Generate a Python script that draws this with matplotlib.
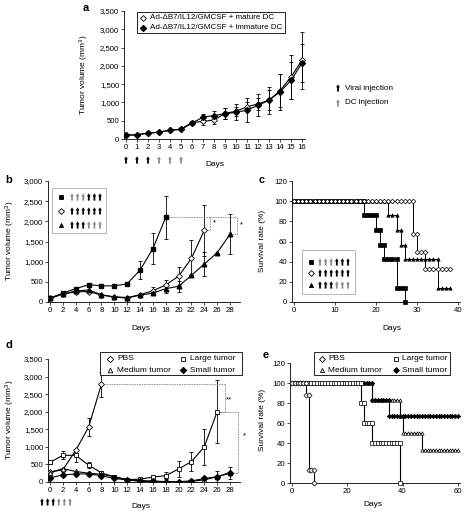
import matplotlib
matplotlib.use('Agg')
import matplotlib.pyplot as plt
from matplotlib.patches import Rectangle, Polygon
from matplotlib.ticker import FuncFormatter
from matplotlib.lines import Line2D

plt.rcParams['font.family'] = ['Liberation Sans', 'DejaVu Sans']
plt.rcParams['mathtext.default'] = 'regular'

# ---------------- data ----------------
# panel a
a_days = list(range(0, 17))
a_mature = [100, 120, 160, 190, 240, 270, 450, 480, 520, 700, 760, 880, 960, 1060, 1320, 1700, 2150]
a_mature_err = [0, 0, 0, 0, 0, 0, 50, 100, 110, 160, 120, 120, 170, 280, 450, 600, 780]
a_immature = [100, 120, 155, 185, 240, 260, 430, 600, 640, 690, 730, 790, 920, 1060, 1290, 1600, 2080]
a_immature_err = [0, 0, 0, 0, 0, 0, 40, 90, 130, 150, 220, 330, 300, 370, 500, 500, 520]
a_labels = ['Ad-\u0394B7/IL12/GMCSF + mature DC', 'Ad-\u0394B7/IL12/GMCSF + immature DC']
a_inj_days = [0, 1, 2, 3, 4, 5]
a_inj_pat = ['k', 'k', 'k', 'g', 'g', 'g']

# panel b
b_sq_days = [0, 2, 4, 6, 8, 10, 12, 14, 16, 18]
b_sq = [100, 220, 330, 430, 400, 400, 450, 790, 1320, 2100]
b_sq_err = [0, 0, 0, 0, 0, 0, 0, 230, 380, 540]
b_di_days = [0, 2, 4, 6, 8, 10, 12, 14, 16, 18, 20, 22, 24]
b_di = [90, 200, 250, 260, 170, 130, 110, 180, 280, 420, 640, 1080, 1780]
b_di_err = [0, 0, 0, 0, 0, 0, 0, 0, 80, 120, 220, 450, 630]
b_tr_days = [0, 2, 4, 6, 8, 10, 12, 14, 16, 18, 20, 22, 24, 26, 28]
b_tr = [90, 200, 270, 300, 180, 120, 100, 170, 220, 330, 390, 660, 940, 1220, 1680]
b_tr_err = [0, 0, 0, 0, 0, 0, 0, 0, 0, 100, 130, 0, 300, 0, 500]

# arrow patterns (k = viral, g = DC)
pat_sq = ['g', 'g', 'g', 'k', 'k', 'k']
pat_di = ['k', 'k', 'k', 'k', 'k', 'k']
pat_tr = ['k', 'k', 'k', 'g', 'g', 'g']

# panel c survival: change days, survival after change, last day
c_sq_t, c_sq_v, c_sq_end = [17, 20, 21, 22, 25, 27], [86, 71, 57, 43, 14, 0], 27
c_di_t, c_di_v, c_di_end = [29, 30, 32], [67, 50, 33], 38
c_tr_t, c_tr_v, c_tr_end = [23, 25, 26, 27, 35], [86, 71, 57, 43, 14], 38

# panel d
d_pbs_days = [0, 2, 4, 6, 8]
d_pbs = [280, 350, 900, 1560, 2780]
d_pbs_err = [0, 0, 0, 260, 350]
d_lg_days = [0, 2, 4, 6, 8, 10, 12, 14, 16, 18, 20, 22, 24, 26]
d_lg = [560, 760, 760, 480, 260, 150, 70, 80, 140, 180, 370, 580, 1000, 2000]
d_lg_err = [50, 110, 180, 80, 40, 40, 20, 30, 40, 100, 230, 280, 520, 900]
d_md_days = [0, 2, 4, 6, 8, 10, 12, 14, 16, 18, 20, 22, 24, 26, 28]
d_md = [270, 380, 300, 250, 220, 150, 60, 20, 10, 5, 5, 20, 60, 150, 270]
d_sm_days = [0, 2, 4, 6, 8, 10, 12, 14, 16, 18, 20, 22, 24, 26, 28]
d_sm = [120, 200, 230, 230, 180, 100, 60, 40, 30, 10, 10, 30, 100, 150, 250]
d_sm_err = [0, 0, 0, 0, 0, 0, 0, 0, 0, 0, 0, 0, 50, 150, 170]
d_labels = ['PBS', 'Medium tumor', 'Large tumor', 'Small tumor']
d_inj_pat = ['k', 'k', 'k', 'g', 'g', 'g']

# panel e survival
e_pbs_t, e_pbs_v, e_pbs_end = [5, 6, 8], [88, 13, 0], 8
e_lg_t, e_lg_v, e_lg_end = [25, 26, 29, 39], [80, 60, 40, 0], 39
e_md_t, e_md_v, e_md_end = [29, 39, 40, 47], [83, 67, 50, 33], 60
e_sm_t, e_sm_v, e_sm_end = [29, 35], [83, 67], 60

# ---------------- layout helpers ----------------
W, H = 465, 512
fig = plt.figure(figsize=(4.65, 5.12), dpi=100)
FS = 5.6
GRAY = '#8c8c8c'


def ax_px(x0, x1, ytop, ybot):
    return fig.add_axes([x0 / W, 1 - ybot / H, (x1 - x0) / W, (ybot - ytop) / H])


def ftext(x, y, s, **kw):
    kw.setdefault('fontsize', FS)
    fig.text(x / W, 1 - y / H, s, **kw)


def style(ax):
    for s in ['top', 'right']:
        ax.spines[s].set_visible(False)
    for s in ['left', 'bottom']:
        ax.spines[s].set_linewidth(0.6)
    ax.tick_params(labelsize=FS, length=2, width=0.5, pad=1.5)


comma = FuncFormatter(lambda v, p: f'{int(v):,}')


def arrow_px(x, y, c, z=3):
    col = 'black' if c == 'k' else GRAY
    pts = [(x - 0.9, y + 3.6), (x + 0.9, y + 3.6), (x + 0.9, y - 0.6), (x + 1.9, y - 0.6),
           (x, y - 3.6), (x - 1.9, y - 0.6), (x - 0.9, y - 0.6)]
    fig.patches.append(Polygon([(px / W, 1 - py / H) for px, py in pts], closed=True,
                               transform=fig.transFigure, fc=col, ec='none', zorder=z))


def arrows(x, y, pat, step=5.2, z=3):
    for i, c in enumerate(pat):
        arrow_px(x + i * step, y, c, z)


def km_path(times, vals, end):
    ch = dict(zip(times, vals))
    xs, ys, cur = [], [], 100
    for d in range(0, end + 1):
        if d in ch:
            xs += [d, d]
            ys += [cur, ch[d]]
            cur = ch[d]
        else:
            xs.append(d)
            ys.append(cur)
    return xs, ys


EB = dict(fmt='none', ecolor='black', elinewidth=0.6, capsize=1.5, capthick=0.6, zorder=2)
LW = 0.8
MS = 3

# ---------------- panel a ----------------
axa = ax_px(124, 305, 11, 139)
style(axa)
axa.set_xlim(-2 / 11, 16 + 3 / 11)
axa.set_ylim(0, 3500)
axa.set_yticks(range(0, 3501, 500))
axa.yaxis.set_major_formatter(comma)
axa.set_xticks(a_days)
axa.errorbar(a_days, a_mature, yerr=a_mature_err, **EB)
axa.errorbar(a_days, a_immature, yerr=a_immature_err, **EB)
axa.plot(a_days, a_mature, color='black', lw=LW, marker='D', ms=MS, mfc='white', mec='black', mew=0.6, zorder=3)
axa.plot(a_days, a_immature, color='black', lw=LW, marker='D', ms=MS, mfc='black', mec='black', zorder=3)
ftext(83, 8, 'a', fontsize=8, fontweight='bold', va='center')
ftext(84, 75, 'Tumor volume (mm$^3$)', rotation=90, ha='center', va='center', fontsize=FS + 0.4)
ftext(215, 164, 'Days', ha='center', va='center', fontsize=FS + 0.4)
# legend a
fig.patches.append(Rectangle((137 / W, 1 - 33 / H), 148 / W, 21 / H, transform=fig.transFigure,
                             fill=False, lw=0.6, ec='black'))
fig.lines.append(Line2D([143 / W], [1 - 17.5 / H], transform=fig.transFigure, marker='D', ms=MS,
                        mfc='white', mec='black', mew=0.6))
fig.lines.append(Line2D([143 / W], [1 - 27.5 / H], transform=fig.transFigure, marker='D', ms=MS,
                        mfc='black', mec='black'))
ftext(150, 17.5, a_labels[0], va='center', fontsize=FS + 0.2)
ftext(150, 27.5, a_labels[1], va='center', fontsize=FS + 0.2)
# injection arrows under axis (x from data scale)
for d, c in zip(a_inj_days, a_inj_pat):
    xpx = axa.transData.transform((d, 0))[0]
    arrow_px(xpx, 160, c)
arrow_px(338, 88, 'k')
ftext(345, 88, 'Viral injection', va='center', fontsize=FS + 0.3)
arrow_px(338, 103, 'g')
ftext(345, 103, 'DC injection', va='center', fontsize=FS + 0.3)

# ---------------- panel b ----------------
pxb = 180 / 28
axb = ax_px(48, 240, 181, 302)
style(axb)
axb.set_xlim(-2 / pxb, 190 / pxb)
axb.set_ylim(0, 3000)
axb.set_yticks(range(0, 3001, 500))
axb.yaxis.set_major_formatter(comma)
axb.set_xticks(range(0, 29, 2))
axb.errorbar(b_sq_days, b_sq, yerr=b_sq_err, **EB)
axb.errorbar(b_di_days, b_di, yerr=b_di_err, **EB)
axb.errorbar(b_tr_days, b_tr, yerr=b_tr_err, **EB)
axb.plot(b_sq_days, b_sq, color='black', lw=LW, marker='s', ms=MS, mfc='black', zorder=3)
axb.plot(b_di_days, b_di, color='black', lw=LW, marker='D', ms=MS, mfc='white', mew=0.6, zorder=3)
axb.plot(b_tr_days, b_tr, color='black', lw=LW, marker='^', ms=MS + 0.3, mfc='black', zorder=3)
DS = dict(color=GRAY, lw=0.6, ls=(0, (2, 1)), clip_on=False)
xb1, xb2 = 24.9, 29.1
axb.plot([b_sq_days[-1], xb1, xb1, b_di_days[-1]], [b_sq[-1], b_sq[-1], b_di[-1], b_di[-1]], **DS)
axb.plot([xb1, xb2, xb2, b_tr_days[-1]], [b_sq[-1], b_sq[-1], b_tr[-1], b_tr[-1]], **DS)
axb.text(25.6, 1950, '*', fontsize=FS, ha='center', va='center')
axb.text(29.8, 1900, '*', fontsize=FS, ha='center', va='center')
ftext(5, 180, 'b', fontsize=8, fontweight='bold', va='center')
ftext(10, 241, 'Tumor volume (mm$^3$)', rotation=90, ha='center', va='center', fontsize=FS + 0.4)
ftext(141, 329, 'Days', ha='center', va='center', fontsize=FS + 0.4)
# legend b
fig.patches.append(Rectangle((52 / W, 1 - 233 / H), 54 / W, 45 / H, transform=fig.transFigure,
                             fill=False, lw=0.6, ec='#aaaaaa'))
for yy, mk, fc, pat in [(197, 's', 'black', pat_sq), (211, 'D', 'white', pat_di), (225, '^', 'black', pat_tr)]:
    fig.lines.append(Line2D([61 / W], [1 - yy / H], transform=fig.transFigure, marker=mk, ms=MS,
                            mfc=fc, mec='black', mew=0.6))
    arrows(72, yy, pat, step=5.6)

# ---------------- panel c ----------------
pxc = 164 / 40
axc = ax_px(292, 460, 181, 302)
style(axc)
axc.set_xlim(-2 / pxc, 40 + 2 / pxc)
axc.set_ylim(0, 120)
axc.set_yticks(range(0, 121, 20))
axc.set_xticks(range(0, 41, 10))
for t, v, e, mk, fc in [(c_sq_t, c_sq_v, c_sq_end, 's', 'black'),
                        (c_tr_t, c_tr_v, c_tr_end, '^', 'black'),
                        (c_di_t, c_di_v, c_di_end, 'D', 'white')]:
    xs, ys = km_path(t, v, e)
    axc.plot(xs, ys, color='black', lw=0.7, marker=mk, ms=2.4, mfc=fc, mec='black', mew=0.5,
             clip_on=False, zorder=3)
ftext(259, 180, 'c', fontsize=8, fontweight='bold', va='center')
ftext(263, 241, 'Survival rate (%)', rotation=90, ha='center', va='center', fontsize=FS + 0.4)
ftext(392, 329, 'Days', ha='center', va='center', fontsize=FS + 0.4)
fig.patches.append(Rectangle((302 / W, 1 - 294 / H), 53 / W, 44 / H, transform=fig.transFigure,
                             fill=True, fc='white', lw=0.6, ec='#aaaaaa', zorder=5))
for yy, mk, fc, pat in [(262, 's', 'black', pat_sq), (273, 'D', 'white', pat_di), (285, '^', 'black', pat_tr)]:
    fig.lines.append(Line2D([311 / W], [1 - yy / H], transform=fig.transFigure, marker=mk, ms=MS,
                            mfc=fc, mec='black', mew=0.6, zorder=6))
    arrows(320, yy, pat, step=5.6, z=6)

# ---------------- panel d ----------------
axd = ax_px(48, 240, 359, 482)
style(axd)
axd.set_xlim(-2 / pxb, 190 / pxb)
axd.set_ylim(0, 3500)
axd.set_yticks(range(0, 3501, 500))
axd.yaxis.set_major_formatter(comma)
axd.set_xticks(range(0, 29, 2))
axd.errorbar(d_pbs_days, d_pbs, yerr=d_pbs_err, **EB)
axd.errorbar(d_lg_days, d_lg, yerr=d_lg_err, **EB)
axd.errorbar(d_sm_days, d_sm, yerr=d_sm_err, **EB)
axd.plot(d_pbs_days, d_pbs, color='black', lw=LW, marker='D', ms=MS, mfc='white', mew=0.6, zorder=3)
axd.plot(d_lg_days, d_lg, color='black', lw=LW, marker='s', ms=MS + 0.4, mfc='white', mew=0.6, zorder=3)
axd.plot(d_md_days, d_md, color='black', lw=LW, marker='^', ms=MS + 0.3, mfc='white', mew=0.6, zorder=3)
axd.plot(d_sm_days, d_sm, color='black', lw=LW, marker='D', ms=MS, mfc='black', zorder=3)
xd1, xd2 = 27.2, 29.3
axd.plot([d_pbs_days[-1], xd1, xd1, d_lg_days[-1]], [d_pbs[-1], d_pbs[-1], d_lg[-1], d_lg[-1]], **DS)
axd.plot([d_lg_days[-1], xd2, xd2, d_sm_days[-1]], [d_lg[-1], d_lg[-1], d_sm[-1], d_sm[-1]], **DS)
axd.text(27.9, 2350, '**', fontsize=FS, ha='center', va='center')
axd.text(30.3, 1300, '*', fontsize=FS, ha='center', va='center')
ftext(5, 345, 'd', fontsize=8, fontweight='bold', va='center')
ftext(10, 420, 'Tumor volume (mm$^3$)', rotation=90, ha='center', va='center', fontsize=FS + 0.4)
ftext(141, 507, 'Days', ha='center', va='center', fontsize=FS + 0.4)
arrows(42, 502, d_inj_pat, step=5.6)
# legend d
fig.patches.append(Rectangle((100 / W, 1 - 375 / H), 142 / W, 23 / H, transform=fig.transFigure,
                             fill=True, fc='white', lw=0.6, ec='black', zorder=5))
for (xm, yy, mk, fc, lab) in [(110, 359, 'D', 'white', d_labels[0]), (110, 370, '^', 'white', d_labels[1]),
                              (183, 359, 's', 'white', d_labels[2]), (183, 370, 'D', 'black', d_labels[3])]:
    fig.lines.append(Line2D([xm / W], [1 - yy / H], transform=fig.transFigure, marker=mk, ms=MS + 0.3,
                            mfc=fc, mec='black', mew=0.6, zorder=6))
    ftext(xm + 7, yy, lab, va='center', fontsize=FS + 0.4, zorder=6)

# ---------------- panel e ----------------
pxe = 166 / 60
axe = ax_px(290, 460, 363, 483)
style(axe)
axe.set_xlim(-2 / pxe, 60 + 2 / pxe)
axe.set_ylim(0, 120)
axe.set_yticks(range(0, 121, 20))
axe.set_xticks(range(0, 61, 20))
for t, v, e, mk, fc, ms in [(e_md_t, e_md_v, e_md_end, '^', 'white', 2.4),
                            (e_sm_t, e_sm_v, e_sm_end, 'D', 'black', 2.2),
                            (e_lg_t, e_lg_v, e_lg_end, 's', 'white', 2.6),
                            (e_pbs_t, e_pbs_v, e_pbs_end, 'D', 'white', 2.6)]:
    xs, ys = km_path(t, v, e)
    axe.plot(xs, ys, color='black', lw=0.8, marker=mk, ms=ms, mfc=fc, mec='black', mew=0.5,
             clip_on=False, zorder=3)
ftext(263, 355, 'e', fontsize=8, fontweight='bold', va='center')
ftext(263, 420, 'Survival rate (%)', rotation=90, ha='center', va='center', fontsize=FS + 0.4)
ftext(373, 504, 'Days', ha='center', va='center', fontsize=FS + 0.4)
fig.patches.append(Rectangle((314 / W, 1 - 375 / H), 136 / W, 23 / H, transform=fig.transFigure,
                             fill=True, fc='white', lw=0.6, ec='black', zorder=5))
for (xm, yy, mk, fc, lab) in [(322, 359, 'D', 'white', d_labels[0]), (322, 370, '^', 'white', d_labels[1]),
                              (396, 359, 's', 'white', d_labels[2]), (396, 370, 'D', 'black', d_labels[3])]:
    fig.lines.append(Line2D([xm / W], [1 - yy / H], transform=fig.transFigure, marker=mk, ms=MS,
                            mfc=fc, mec='black', mew=0.6, zorder=6))
    ftext(xm + 6, yy, lab, va='center', fontsize=FS + 0.4, zorder=6)

fig.savefig('out.png', dpi=100)
